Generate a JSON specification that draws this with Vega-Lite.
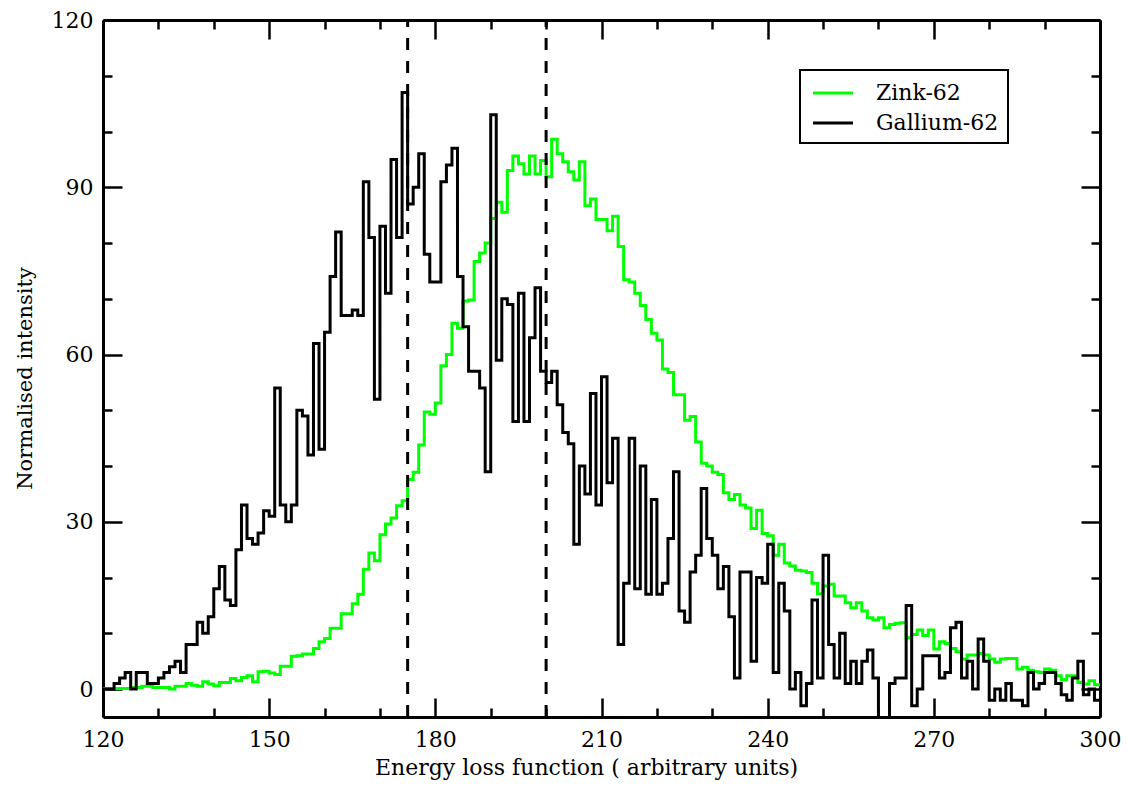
{
"$schema": "https://vega.github.io/schema/vega-lite/v6.json",
"width": 997, "height": 697,
"autosize": {"type": "none"},
"padding": {"left": 103, "top": 20, "right": 27, "bottom": 70},
"background": "white",
"config": {"view": {"stroke": null}, "font": "DejaVu Serif", "legend": {"labelFont": "DejaVu Serif", "labelFontSize": 22}, "axis": {"grid": false, "domainColor": "black", "domainWidth": 3, "tickColor": "black", "tickWidth": 2.5, "labelFont": "DejaVu Serif", "labelFontSize": 22, "labelColor": "black", "titleFont": "DejaVu Serif", "titleFontSize": 22, "titleFontWeight": "normal", "titleColor": "black", "labelFlush": false, "labelOverlap": false}},
"datasets": {
"zink": [
{"x":120,"v":0.1,"s":"Zink-62"},{"x":121,"v":0.1,"s":"Zink-62"},{"x":122,"v":0.1,"s":"Zink-62"},{"x":123,"v":0.1,"s":"Zink-62"},{"x":124,"v":0.1,"s":"Zink-62"},{"x":125,"v":0.3,"s":"Zink-62"},{"x":126,"v":0.3,"s":"Zink-62"},{"x":127,"v":0.5,"s":"Zink-62"},{"x":128,"v":0.5,"s":"Zink-62"},{"x":129,"v":0.3,"s":"Zink-62"},
{"x":130,"v":0.3,"s":"Zink-62"},{"x":131,"v":0.3,"s":"Zink-62"},{"x":132,"v":0,"s":"Zink-62"},{"x":133,"v":0.5,"s":"Zink-62"},{"x":134,"v":0.5,"s":"Zink-62"},{"x":135,"v":1.0,"s":"Zink-62"},{"x":136,"v":0.7,"s":"Zink-62"},{"x":137,"v":0.5,"s":"Zink-62"},{"x":138,"v":1.3,"s":"Zink-62"},{"x":139,"v":0.9,"s":"Zink-62"},
{"x":140,"v":0.6,"s":"Zink-62"},{"x":141,"v":1.2,"s":"Zink-62"},{"x":142,"v":1.2,"s":"Zink-62"},{"x":143,"v":1.9,"s":"Zink-62"},{"x":144,"v":1.5,"s":"Zink-62"},{"x":145,"v":2.1,"s":"Zink-62"},{"x":146,"v":2.4,"s":"Zink-62"},{"x":147,"v":1.3,"s":"Zink-62"},{"x":148,"v":3.1,"s":"Zink-62"},{"x":149,"v":3.2,"s":"Zink-62"},
{"x":150,"v":2.9,"s":"Zink-62"},{"x":151,"v":2.6,"s":"Zink-62"},{"x":152,"v":4.1,"s":"Zink-62"},{"x":153,"v":4.1,"s":"Zink-62"},{"x":154,"v":5.9,"s":"Zink-62"},{"x":155,"v":6.0,"s":"Zink-62"},{"x":156,"v":6.3,"s":"Zink-62"},{"x":157,"v":6.3,"s":"Zink-62"},{"x":158,"v":7.3,"s":"Zink-62"},{"x":159,"v":8.5,"s":"Zink-62"},
{"x":160,"v":9.1,"s":"Zink-62"},{"x":161,"v":10.9,"s":"Zink-62"},{"x":162,"v":10.9,"s":"Zink-62"},{"x":163,"v":13.5,"s":"Zink-62"},{"x":164,"v":13.5,"s":"Zink-62"},{"x":165,"v":15.3,"s":"Zink-62"},{"x":166,"v":17.0,"s":"Zink-62"},{"x":167,"v":21.5,"s":"Zink-62"},{"x":168,"v":24.4,"s":"Zink-62"},{"x":169,"v":23.0,"s":"Zink-62"},
{"x":170,"v":27.7,"s":"Zink-62"},{"x":171,"v":29.6,"s":"Zink-62"},{"x":172,"v":30.7,"s":"Zink-62"},{"x":173,"v":32.9,"s":"Zink-62"},{"x":174,"v":33.8,"s":"Zink-62"},{"x":175,"v":37.6,"s":"Zink-62"},{"x":176,"v":38.9,"s":"Zink-62"},{"x":177,"v":43.8,"s":"Zink-62"},{"x":178,"v":49.7,"s":"Zink-62"},{"x":179,"v":49.3,"s":"Zink-62"},
{"x":180,"v":51.3,"s":"Zink-62"},{"x":181,"v":58,"s":"Zink-62"},{"x":182,"v":60,"s":"Zink-62"},{"x":183,"v":65.6,"s":"Zink-62"},{"x":184,"v":64.7,"s":"Zink-62"},{"x":185,"v":69.6,"s":"Zink-62"},{"x":186,"v":69.8,"s":"Zink-62"},{"x":187,"v":76.7,"s":"Zink-62"},{"x":188,"v":78.2,"s":"Zink-62"},{"x":189,"v":80,"s":"Zink-62"},
{"x":190,"v":84.4,"s":"Zink-62"},{"x":191,"v":87.3,"s":"Zink-62"},{"x":192,"v":85.5,"s":"Zink-62"},{"x":193,"v":93,"s":"Zink-62"},{"x":194,"v":95.6,"s":"Zink-62"},{"x":195,"v":94.2,"s":"Zink-62"},{"x":196,"v":92.4,"s":"Zink-62"},{"x":197,"v":95.6,"s":"Zink-62"},{"x":198,"v":92.4,"s":"Zink-62"},{"x":199,"v":94.8,"s":"Zink-62"},
{"x":200,"v":91.9,"s":"Zink-62"},{"x":201,"v":98.6,"s":"Zink-62"},{"x":202,"v":96,"s":"Zink-62"},{"x":203,"v":94.6,"s":"Zink-62"},{"x":204,"v":92.8,"s":"Zink-62"},{"x":205,"v":91.3,"s":"Zink-62"},{"x":206,"v":94.6,"s":"Zink-62"},{"x":207,"v":86.7,"s":"Zink-62"},{"x":208,"v":87.9,"s":"Zink-62"},{"x":209,"v":84.2,"s":"Zink-62"},
{"x":210,"v":84.2,"s":"Zink-62"},{"x":211,"v":82.2,"s":"Zink-62"},{"x":212,"v":84.8,"s":"Zink-62"},{"x":213,"v":79.4,"s":"Zink-62"},{"x":214,"v":73.4,"s":"Zink-62"},{"x":215,"v":73,"s":"Zink-62"},{"x":216,"v":71,"s":"Zink-62"},{"x":217,"v":68.8,"s":"Zink-62"},{"x":218,"v":66.3,"s":"Zink-62"},{"x":219,"v":63.8,"s":"Zink-62"},
{"x":220,"v":62.6,"s":"Zink-62"},{"x":221,"v":57.4,"s":"Zink-62"},{"x":222,"v":56.8,"s":"Zink-62"},{"x":223,"v":52.8,"s":"Zink-62"},{"x":224,"v":52.8,"s":"Zink-62"},{"x":225,"v":48.2,"s":"Zink-62"},{"x":226,"v":48.9,"s":"Zink-62"},{"x":227,"v":44.3,"s":"Zink-62"},{"x":228,"v":40.5,"s":"Zink-62"},{"x":229,"v":40,"s":"Zink-62"},
{"x":230,"v":38.9,"s":"Zink-62"},{"x":231,"v":38.5,"s":"Zink-62"},{"x":232,"v":35.2,"s":"Zink-62"},{"x":233,"v":34,"s":"Zink-62"},{"x":234,"v":34.9,"s":"Zink-62"},{"x":235,"v":33,"s":"Zink-62"},{"x":236,"v":32.5,"s":"Zink-62"},{"x":237,"v":28.8,"s":"Zink-62"},{"x":238,"v":32.1,"s":"Zink-62"},{"x":239,"v":27.9,"s":"Zink-62"},
{"x":240,"v":27.5,"s":"Zink-62"},{"x":241,"v":24,"s":"Zink-62"},{"x":242,"v":26,"s":"Zink-62"},{"x":243,"v":22.6,"s":"Zink-62"},{"x":244,"v":22.1,"s":"Zink-62"},{"x":245,"v":21.3,"s":"Zink-62"},{"x":246,"v":21.2,"s":"Zink-62"},{"x":247,"v":20.9,"s":"Zink-62"},{"x":248,"v":19,"s":"Zink-62"},{"x":249,"v":17.1,"s":"Zink-62"},
{"x":250,"v":18.5,"s":"Zink-62"},{"x":251,"v":18.8,"s":"Zink-62"},{"x":252,"v":16.7,"s":"Zink-62"},{"x":253,"v":16.7,"s":"Zink-62"},{"x":254,"v":15.5,"s":"Zink-62"},{"x":255,"v":14.6,"s":"Zink-62"},{"x":256,"v":15.5,"s":"Zink-62"},{"x":257,"v":14,"s":"Zink-62"},{"x":258,"v":12.8,"s":"Zink-62"},{"x":259,"v":12.4,"s":"Zink-62"},
{"x":260,"v":12.8,"s":"Zink-62"},{"x":261,"v":11,"s":"Zink-62"},{"x":262,"v":11.6,"s":"Zink-62"},{"x":263,"v":11.8,"s":"Zink-62"},{"x":264,"v":11.9,"s":"Zink-62"},{"x":265,"v":9.2,"s":"Zink-62"},{"x":266,"v":9.8,"s":"Zink-62"},{"x":267,"v":10.6,"s":"Zink-62"},{"x":268,"v":9.6,"s":"Zink-62"},{"x":269,"v":10.6,"s":"Zink-62"},
{"x":270,"v":7.2,"s":"Zink-62"},{"x":271,"v":8.5,"s":"Zink-62"},{"x":272,"v":8.2,"s":"Zink-62"},{"x":273,"v":7.3,"s":"Zink-62"},{"x":274,"v":6.7,"s":"Zink-62"},{"x":275,"v":5.4,"s":"Zink-62"},{"x":276,"v":6.1,"s":"Zink-62"},{"x":277,"v":6.1,"s":"Zink-62"},{"x":278,"v":6.4,"s":"Zink-62"},{"x":279,"v":6.1,"s":"Zink-62"},
{"x":280,"v":5.4,"s":"Zink-62"},{"x":281,"v":4.8,"s":"Zink-62"},{"x":282,"v":5.4,"s":"Zink-62"},{"x":283,"v":5.5,"s":"Zink-62"},{"x":284,"v":5.5,"s":"Zink-62"},{"x":285,"v":3.6,"s":"Zink-62"},{"x":286,"v":3.9,"s":"Zink-62"},{"x":287,"v":3.4,"s":"Zink-62"},{"x":288,"v":3.1,"s":"Zink-62"},{"x":289,"v":3.0,"s":"Zink-62"},
{"x":290,"v":3.6,"s":"Zink-62"},{"x":291,"v":3.4,"s":"Zink-62"},{"x":292,"v":2.4,"s":"Zink-62"},{"x":293,"v":1.7,"s":"Zink-62"},{"x":294,"v":2.4,"s":"Zink-62"},{"x":295,"v":2.4,"s":"Zink-62"},{"x":296,"v":1.2,"s":"Zink-62"},{"x":297,"v":0.9,"s":"Zink-62"},{"x":298,"v":1.5,"s":"Zink-62"},{"x":299,"v":0.8,"s":"Zink-62"},
{"x":300,"v":0.8,"s":"Zink-62"}
],
"gallium": [
{"x":120,"v":0,"s":"Gallium-62"},{"x":121,"v":0,"s":"Gallium-62"},{"x":122,"v":1,"s":"Gallium-62"},{"x":123,"v":2,"s":"Gallium-62"},{"x":124,"v":3,"s":"Gallium-62"},{"x":125,"v":0,"s":"Gallium-62"},{"x":126,"v":3,"s":"Gallium-62"},{"x":127,"v":3,"s":"Gallium-62"},{"x":128,"v":1,"s":"Gallium-62"},{"x":129,"v":1,"s":"Gallium-62"},
{"x":130,"v":2,"s":"Gallium-62"},{"x":131,"v":3,"s":"Gallium-62"},{"x":132,"v":4,"s":"Gallium-62"},{"x":133,"v":5,"s":"Gallium-62"},{"x":134,"v":3,"s":"Gallium-62"},{"x":135,"v":8,"s":"Gallium-62"},{"x":136,"v":8,"s":"Gallium-62"},{"x":137,"v":12,"s":"Gallium-62"},{"x":138,"v":10,"s":"Gallium-62"},{"x":139,"v":13,"s":"Gallium-62"},
{"x":140,"v":18,"s":"Gallium-62"},{"x":141,"v":22,"s":"Gallium-62"},{"x":142,"v":16,"s":"Gallium-62"},{"x":143,"v":15,"s":"Gallium-62"},{"x":144,"v":25,"s":"Gallium-62"},{"x":145,"v":33,"s":"Gallium-62"},{"x":146,"v":27,"s":"Gallium-62"},{"x":147,"v":26,"s":"Gallium-62"},{"x":148,"v":28,"s":"Gallium-62"},{"x":149,"v":32,"s":"Gallium-62"},
{"x":150,"v":31,"s":"Gallium-62"},{"x":151,"v":54,"s":"Gallium-62"},{"x":152,"v":33,"s":"Gallium-62"},{"x":153,"v":30,"s":"Gallium-62"},{"x":154,"v":33,"s":"Gallium-62"},{"x":155,"v":50,"s":"Gallium-62"},{"x":156,"v":49,"s":"Gallium-62"},{"x":157,"v":42,"s":"Gallium-62"},{"x":158,"v":62,"s":"Gallium-62"},{"x":159,"v":43,"s":"Gallium-62"},
{"x":160,"v":64,"s":"Gallium-62"},{"x":161,"v":74,"s":"Gallium-62"},{"x":162,"v":82,"s":"Gallium-62"},{"x":163,"v":67,"s":"Gallium-62"},{"x":164,"v":67,"s":"Gallium-62"},{"x":165,"v":68,"s":"Gallium-62"},{"x":166,"v":67,"s":"Gallium-62"},{"x":167,"v":91,"s":"Gallium-62"},{"x":168,"v":81,"s":"Gallium-62"},{"x":169,"v":52,"s":"Gallium-62"},
{"x":170,"v":83,"s":"Gallium-62"},{"x":171,"v":71,"s":"Gallium-62"},{"x":172,"v":95,"s":"Gallium-62"},{"x":173,"v":81,"s":"Gallium-62"},{"x":174,"v":107,"s":"Gallium-62"},{"x":175,"v":87,"s":"Gallium-62"},{"x":176,"v":90,"s":"Gallium-62"},{"x":177,"v":96,"s":"Gallium-62"},{"x":178,"v":78,"s":"Gallium-62"},{"x":179,"v":73,"s":"Gallium-62"},
{"x":180,"v":73,"s":"Gallium-62"},{"x":181,"v":91,"s":"Gallium-62"},{"x":182,"v":94,"s":"Gallium-62"},{"x":183,"v":97,"s":"Gallium-62"},{"x":184,"v":74,"s":"Gallium-62"},{"x":185,"v":65,"s":"Gallium-62"},{"x":186,"v":57,"s":"Gallium-62"},{"x":187,"v":57,"s":"Gallium-62"},{"x":188,"v":54,"s":"Gallium-62"},{"x":189,"v":39,"s":"Gallium-62"},
{"x":190,"v":103,"s":"Gallium-62"},{"x":191,"v":59,"s":"Gallium-62"},{"x":192,"v":70,"s":"Gallium-62"},{"x":193,"v":69,"s":"Gallium-62"},{"x":194,"v":48,"s":"Gallium-62"},{"x":195,"v":71,"s":"Gallium-62"},{"x":196,"v":48,"s":"Gallium-62"},{"x":197,"v":63,"s":"Gallium-62"},{"x":198,"v":72,"s":"Gallium-62"},{"x":199,"v":57,"s":"Gallium-62"},
{"x":200,"v":55,"s":"Gallium-62"},{"x":201,"v":57,"s":"Gallium-62"},{"x":202,"v":51,"s":"Gallium-62"},{"x":203,"v":46,"s":"Gallium-62"},{"x":204,"v":44,"s":"Gallium-62"},{"x":205,"v":26,"s":"Gallium-62"},{"x":206,"v":40,"s":"Gallium-62"},{"x":207,"v":35,"s":"Gallium-62"},{"x":208,"v":53,"s":"Gallium-62"},{"x":209,"v":33,"s":"Gallium-62"},
{"x":210,"v":56,"s":"Gallium-62"},{"x":211,"v":37,"s":"Gallium-62"},{"x":212,"v":45,"s":"Gallium-62"},{"x":213,"v":8,"s":"Gallium-62"},{"x":214,"v":19,"s":"Gallium-62"},{"x":215,"v":45,"s":"Gallium-62"},{"x":216,"v":18,"s":"Gallium-62"},{"x":217,"v":40,"s":"Gallium-62"},{"x":218,"v":17,"s":"Gallium-62"},{"x":219,"v":34,"s":"Gallium-62"},
{"x":220,"v":17,"s":"Gallium-62"},{"x":221,"v":19,"s":"Gallium-62"},{"x":222,"v":27,"s":"Gallium-62"},{"x":223,"v":39,"s":"Gallium-62"},{"x":224,"v":14,"s":"Gallium-62"},{"x":225,"v":12,"s":"Gallium-62"},{"x":226,"v":21,"s":"Gallium-62"},{"x":227,"v":24,"s":"Gallium-62"},{"x":228,"v":36,"s":"Gallium-62"},{"x":229,"v":27,"s":"Gallium-62"},
{"x":230,"v":24,"s":"Gallium-62"},{"x":231,"v":18,"s":"Gallium-62"},{"x":232,"v":22,"s":"Gallium-62"},{"x":233,"v":13,"s":"Gallium-62"},{"x":234,"v":2,"s":"Gallium-62"},{"x":235,"v":21,"s":"Gallium-62"},{"x":236,"v":21,"s":"Gallium-62"},{"x":237,"v":5,"s":"Gallium-62"},{"x":238,"v":20,"s":"Gallium-62"},{"x":239,"v":19,"s":"Gallium-62"},
{"x":240,"v":26,"s":"Gallium-62"},{"x":241,"v":3,"s":"Gallium-62"},{"x":242,"v":19,"s":"Gallium-62"},{"x":243,"v":14,"s":"Gallium-62"},{"x":244,"v":0,"s":"Gallium-62"},{"x":245,"v":3,"s":"Gallium-62"},{"x":246,"v":-3,"s":"Gallium-62"},{"x":247,"v":1,"s":"Gallium-62"},{"x":248,"v":16,"s":"Gallium-62"},{"x":249,"v":2,"s":"Gallium-62"},
{"x":250,"v":24,"s":"Gallium-62"},{"x":251,"v":8,"s":"Gallium-62"},{"x":252,"v":2,"s":"Gallium-62"},{"x":253,"v":10,"s":"Gallium-62"},{"x":254,"v":1,"s":"Gallium-62"},{"x":255,"v":5,"s":"Gallium-62"},{"x":256,"v":1,"s":"Gallium-62"},{"x":257,"v":5,"s":"Gallium-62"},{"x":258,"v":7,"s":"Gallium-62"},{"x":259,"v":2,"s":"Gallium-62"},
{"x":260,"v":-7,"s":"Gallium-62"},{"x":261,"v":-7,"s":"Gallium-62"},{"x":262,"v":1,"s":"Gallium-62"},{"x":263,"v":2,"s":"Gallium-62"},{"x":264,"v":2,"s":"Gallium-62"},{"x":265,"v":15,"s":"Gallium-62"},{"x":266,"v":-3,"s":"Gallium-62"},{"x":267,"v":0,"s":"Gallium-62"},{"x":268,"v":6,"s":"Gallium-62"},{"x":269,"v":6,"s":"Gallium-62"},
{"x":270,"v":6,"s":"Gallium-62"},{"x":271,"v":2,"s":"Gallium-62"},{"x":272,"v":3,"s":"Gallium-62"},{"x":273,"v":11,"s":"Gallium-62"},{"x":274,"v":12,"s":"Gallium-62"},{"x":275,"v":2,"s":"Gallium-62"},{"x":276,"v":5,"s":"Gallium-62"},{"x":277,"v":0,"s":"Gallium-62"},{"x":278,"v":9,"s":"Gallium-62"},{"x":279,"v":5,"s":"Gallium-62"},
{"x":280,"v":-2,"s":"Gallium-62"},{"x":281,"v":0,"s":"Gallium-62"},{"x":282,"v":-2,"s":"Gallium-62"},{"x":283,"v":1,"s":"Gallium-62"},{"x":284,"v":-2,"s":"Gallium-62"},{"x":285,"v":-2,"s":"Gallium-62"},{"x":286,"v":-3,"s":"Gallium-62"},{"x":287,"v":3,"s":"Gallium-62"},{"x":288,"v":0,"s":"Gallium-62"},{"x":289,"v":1,"s":"Gallium-62"},
{"x":290,"v":3,"s":"Gallium-62"},{"x":291,"v":3,"s":"Gallium-62"},{"x":292,"v":1,"s":"Gallium-62"},{"x":293,"v":-1,"s":"Gallium-62"},{"x":294,"v":-2,"s":"Gallium-62"},{"x":295,"v":2,"s":"Gallium-62"},{"x":296,"v":5,"s":"Gallium-62"},{"x":297,"v":-1,"s":"Gallium-62"},{"x":298,"v":0,"s":"Gallium-62"},{"x":299,"v":-2,"s":"Gallium-62"},
{"x":300,"v":-2,"s":"Gallium-62"}
],
"markers": [{"x":175},{"x":200}]
},
"resolve": {"axis": {"x": "independent", "y": "independent"}},
"layer": [
{"data": {"name": "zink"},
 "mark": {"type": "line", "interpolate": "step-after", "strokeWidth": 3, "clip": true},
 "encoding": {
  "x": {"field": "x", "type": "quantitative", "scale": {"domain": [120, 300], "nice": false, "zero": false},
        "axis": {"orient": "bottom", "values": [120,150,180,210,240,270,300], "tickSize": -19, "labelPadding": 31, "title": "Energy loss function ( arbitrary units)", "titleX": 483, "titleY": 57, "titleBaseline": "alphabetic", "titleAlign": "center"}},
  "y": {"field": "v", "type": "quantitative", "scale": {"domain": [-5, 120], "nice": false, "zero": false},
        "axis": {"orient": "left", "values": [0,30,60,90,120], "tickSize": -19, "labelPadding": 29, "title": "Normalised intensity", "titleFontSize": 21, "titleX": -72, "titleY": 358, "titleBaseline": "alphabetic", "titleAlign": "center", "titleAngle": -90}},
  "color": {"field": "s", "type": "nominal", "scale": {"domain": ["Zink-62", "Gallium-62"], "range": ["#00ff00", "#000000"]},
        "legend": {"orient": "none", "legendX": 697, "legendY": 50, "title": null, "symbolType": "M-1.6,0H1.6", "symbolSize": 625, "symbolStrokeWidth": 3, "symbolOffset": 10, "labelFont": "DejaVu Serif", "labelFontSize": 22, "labelColor": "black", "strokeColor": "black", "fillColor": "white", "padding": 9, "labelOffset": 29, "rowPadding": 5,
                   "encode": {"labels": {"update": {"font": {"value": "DejaVu Serif"}, "fontSize": {"value": 22}}}, "legend": {"update": {"strokeWidth": {"value": 2}}}}}}
 }},
{"data": {"name": "gallium"},
 "mark": {"type": "line", "interpolate": "step-after", "strokeWidth": 3, "clip": true},
 "encoding": {
  "x": {"field": "x", "type": "quantitative",
        "axis": {"orient": "bottom", "values": [130,140,160,170,190,200,220,230,250,260,280,290], "tickSize": -9, "labels": false, "domain": false, "title": null}},
  "y": {"field": "v", "type": "quantitative",
        "axis": {"orient": "left", "values": [10,20,40,50,70,80,100,110], "tickSize": -9, "labels": false, "domain": false, "title": null}},
  "color": {"field": "s", "type": "nominal"}
 }},
{"data": {"name": "markers"},
 "transform": [{"filter": "datum.x == 175"}],
 "mark": {"type": "rule", "strokeDash": [12, 11], "strokeWidth": 3, "color": "black"},
 "encoding": {
  "x": {"field": "x", "type": "quantitative",
        "axis": {"orient": "top", "values": [120,150,180,210,240,270,300], "tickSize": -19, "labels": false, "title": null}},
  "y": {"datum": -5, "type": "quantitative",
        "axis": {"orient": "right", "values": [0,30,60,90,120], "tickSize": -19, "labels": false, "title": null}},
  "y2": {"datum": 120}
 }},
{"data": {"name": "markers"},
 "transform": [{"filter": "datum.x == 200"}],
 "mark": {"type": "rule", "strokeDash": [12, 11], "strokeWidth": 3, "color": "black"},
 "encoding": {
  "x": {"field": "x", "type": "quantitative",
        "axis": {"orient": "top", "values": [130,140,160,170,190,200,220,230,250,260,280,290], "tickSize": -9, "labels": false, "domain": false, "title": null}},
  "y": {"datum": -5, "type": "quantitative",
        "axis": {"orient": "right", "values": [10,20,40,50,70,80,100,110], "tickSize": -9, "labels": false, "domain": false, "title": null}},
  "y2": {"datum": 120}
 }}
]
}
